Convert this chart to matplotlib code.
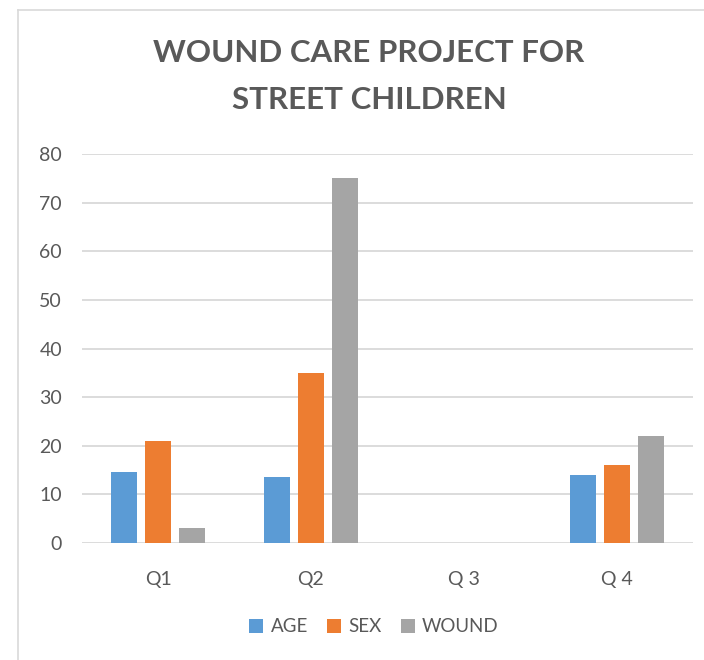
import matplotlib
matplotlib.use("Agg")
import matplotlib.pyplot as plt
from matplotlib.lines import Line2D
import numpy as np

categories = ["Q1", "Q2", "Q 3", "Q 4"]
series_names = ["AGE", "SEX", "WOUND"]
age = [14.5, 13.6, 0, 14]
sex = [21, 35, 0, 16]
wound = [3, 75, 0, 22]
colors = ["#5B9BD5", "#ED7D31", "#A5A5A5"]
yticks = [0, 10, 20, 30, 40, 50, 60, 70, 80]

plt.rcParams['font.family'] = ['Lato', 'DejaVu Sans']
W, H = 704, 660
fig = plt.figure(figsize=(W / 100, H / 100), dpi=100)
ax = fig.add_axes([81.5 / W, 1 - 543 / H, 612 / W, (543 - 154) / H])

x = np.arange(len(categories))
slot = 0.222
bw = 0.173
for i, (vals, name) in enumerate(zip([age, sex, wound], series_names)):
    ax.bar(x + (i - 1) * slot, vals, width=bw, color=colors[i], label=name, zorder=3)

ax.set_xlim(-0.5, len(categories) - 0.5)
ax.set_ylim(0, 80)
ax.set_yticks(yticks)
ax.set_xticks(x)
ax.set_xticklabels(categories)
ax.grid(axis='y', color='#D9D9D9', linewidth=1.3, zorder=0)
for s in ax.spines.values():
    s.set_visible(False)
ax.tick_params(axis='both', length=0, labelsize=14, colors='#595959')
ax.tick_params(axis='x', pad=20)
ax.tick_params(axis='y', pad=14)

fig.text(369 / W, 1 - 53 / H, "WOUND CARE PROJECT FOR", ha='center', va='center',
         fontsize=22.5, fontweight='bold', color='#595959')
fig.text(369 / W, 1 - 100 / H, "STREET CHILDREN", ha='center', va='center',
         fontsize=22.5, fontweight='bold', color='#595959')

leg = fig.legend(loc='center', bbox_to_anchor=(374 / W, 1 - 627 / H), ncol=3, frameon=False,
                 fontsize=13.5, handlelength=0.75, handleheight=0.75, handletextpad=0.4,
                 columnspacing=1.0, labelcolor='#595959')

fig.add_artist(Line2D([18 / W, 18 / W], [0, 1 - 9.5 / H], color='#D9D9D9', lw=1.2))
fig.add_artist(Line2D([18 / W, 1], [1 - 9.5 / H, 1 - 9.5 / H], color='#D9D9D9', lw=1.2))

fig.savefig("out.png", dpi=100, facecolor='white')
